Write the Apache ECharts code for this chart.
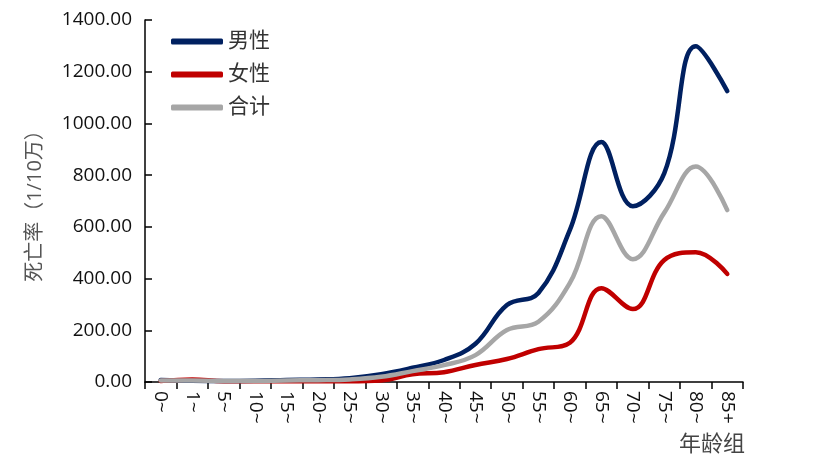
<!DOCTYPE html>
<html>
<head>
<meta charset="utf-8">
<script src="https://cdn.jsdelivr.net/npm/echarts@6/dist/echarts.min.js"></script>
<style>
    html, body {margin: 0; padding: 0; background: #fff;}
    #chart {width: 830px; height: 475px;}
</style>
</head>
<body>
<div id="chart"></div>
<script>
// 年龄组
var ageGroups = ['0~', '1~', '5~', '10~', '15~', '20~', '25~', '30~', '35~', '40~',
    '45~', '50~', '55~', '60~', '65~', '70~', '75~', '80~', '85+'];
// 死亡率（1/10万）
var maleRate = [8, 5, 4, 5, 8, 10, 15, 30, 55, 85, 148, 298, 344, 588, 928, 680, 808, 1298, 1125];
var femaleRate = [4, 10, 3, 3, 3, 3, 3, 6, 30, 38, 66, 89, 127, 152, 363, 282, 472, 502, 418];
var totalRate = [6, 6, 4, 4, 6, 7, 10, 20, 42, 65, 104, 201, 233, 383, 641, 475, 655, 833, 665];
var yTicks = [0, 200, 400, 600, 800, 1000, 1200, 1400];

var fontFamily = '"Open Sans", "Noto Sans CJK SC", sans-serif';

var chart = echarts.init(document.getElementById('chart'));

function makeSeries(name, data, color) {
    return {
        name: name,
        type: 'line',
        smooth: 0.4,
        symbol: 'none',
        data: data,
        lineStyle: {width: 4.5, color: color, cap: 'round'},
        itemStyle: {color: color}
    };
}

var option = {
    animation: false,
    grid: {left: 145, right: 87, top: 20, bottom: 93},
    legend: {
        orient: 'vertical',
        left: 166,
        top: 26,
        itemWidth: 52,
        itemHeight: 6,
        itemGap: 12,
        icon: 'roundRect',
        textStyle: {fontSize: 21, color: '#333', fontFamily: fontFamily},
        data: ['男性', '女性', '合计']
    },
    xAxis: {
        type: 'category',
        data: ageGroups,
        boundaryGap: true,
        name: '年龄组',
        nameLocation: 'end',
        nameGap: 2,
        nameTextStyle: {
            fontSize: 22, color: '#444', fontFamily: fontFamily,
            align: 'right', verticalAlign: 'top', padding: [52, 0, 0, 0]
        },
        axisLine: {lineStyle: {color: '#000', width: 1.5}},
        axisTick: {show: true, inside: false, length: 7, alignWithLabel: false, lineStyle: {color: '#000', width: 1.5}},
        axisLabel: {
            interval: 0,
            rotate: -90,
            margin: 9,
            fontSize: 19,
            color: '#111',
            fontFamily: fontFamily
        }
    },
    yAxis: {
        type: 'value',
        min: 0,
        max: 1400,
        interval: 200,
        name: '死亡率（1/10万）',
        nameLocation: 'middle',
        nameGap: 100,
        nameTextStyle: {fontSize: 20, color: '#555', fontFamily: fontFamily},
        axisLine: {show: true, lineStyle: {color: '#000', width: 1.5}},
        axisTick: {show: true, inside: true, length: 7, lineStyle: {color: '#000', width: 1.5}},
        splitLine: {show: false},
        axisLabel: {
            margin: 13,
            fontSize: 19,
            color: '#111',
            fontFamily: fontFamily,
            formatter: function (v) {
                return v.toFixed(2);
            }
        }
    },
    series: [
        makeSeries('男性', maleRate, '#002060'),
        makeSeries('女性', femaleRate, '#c00000'),
        makeSeries('合计', totalRate, '#a6a6a6')
    ]
};

chart.setOption(option, true);
</script>
</body>
</html>
